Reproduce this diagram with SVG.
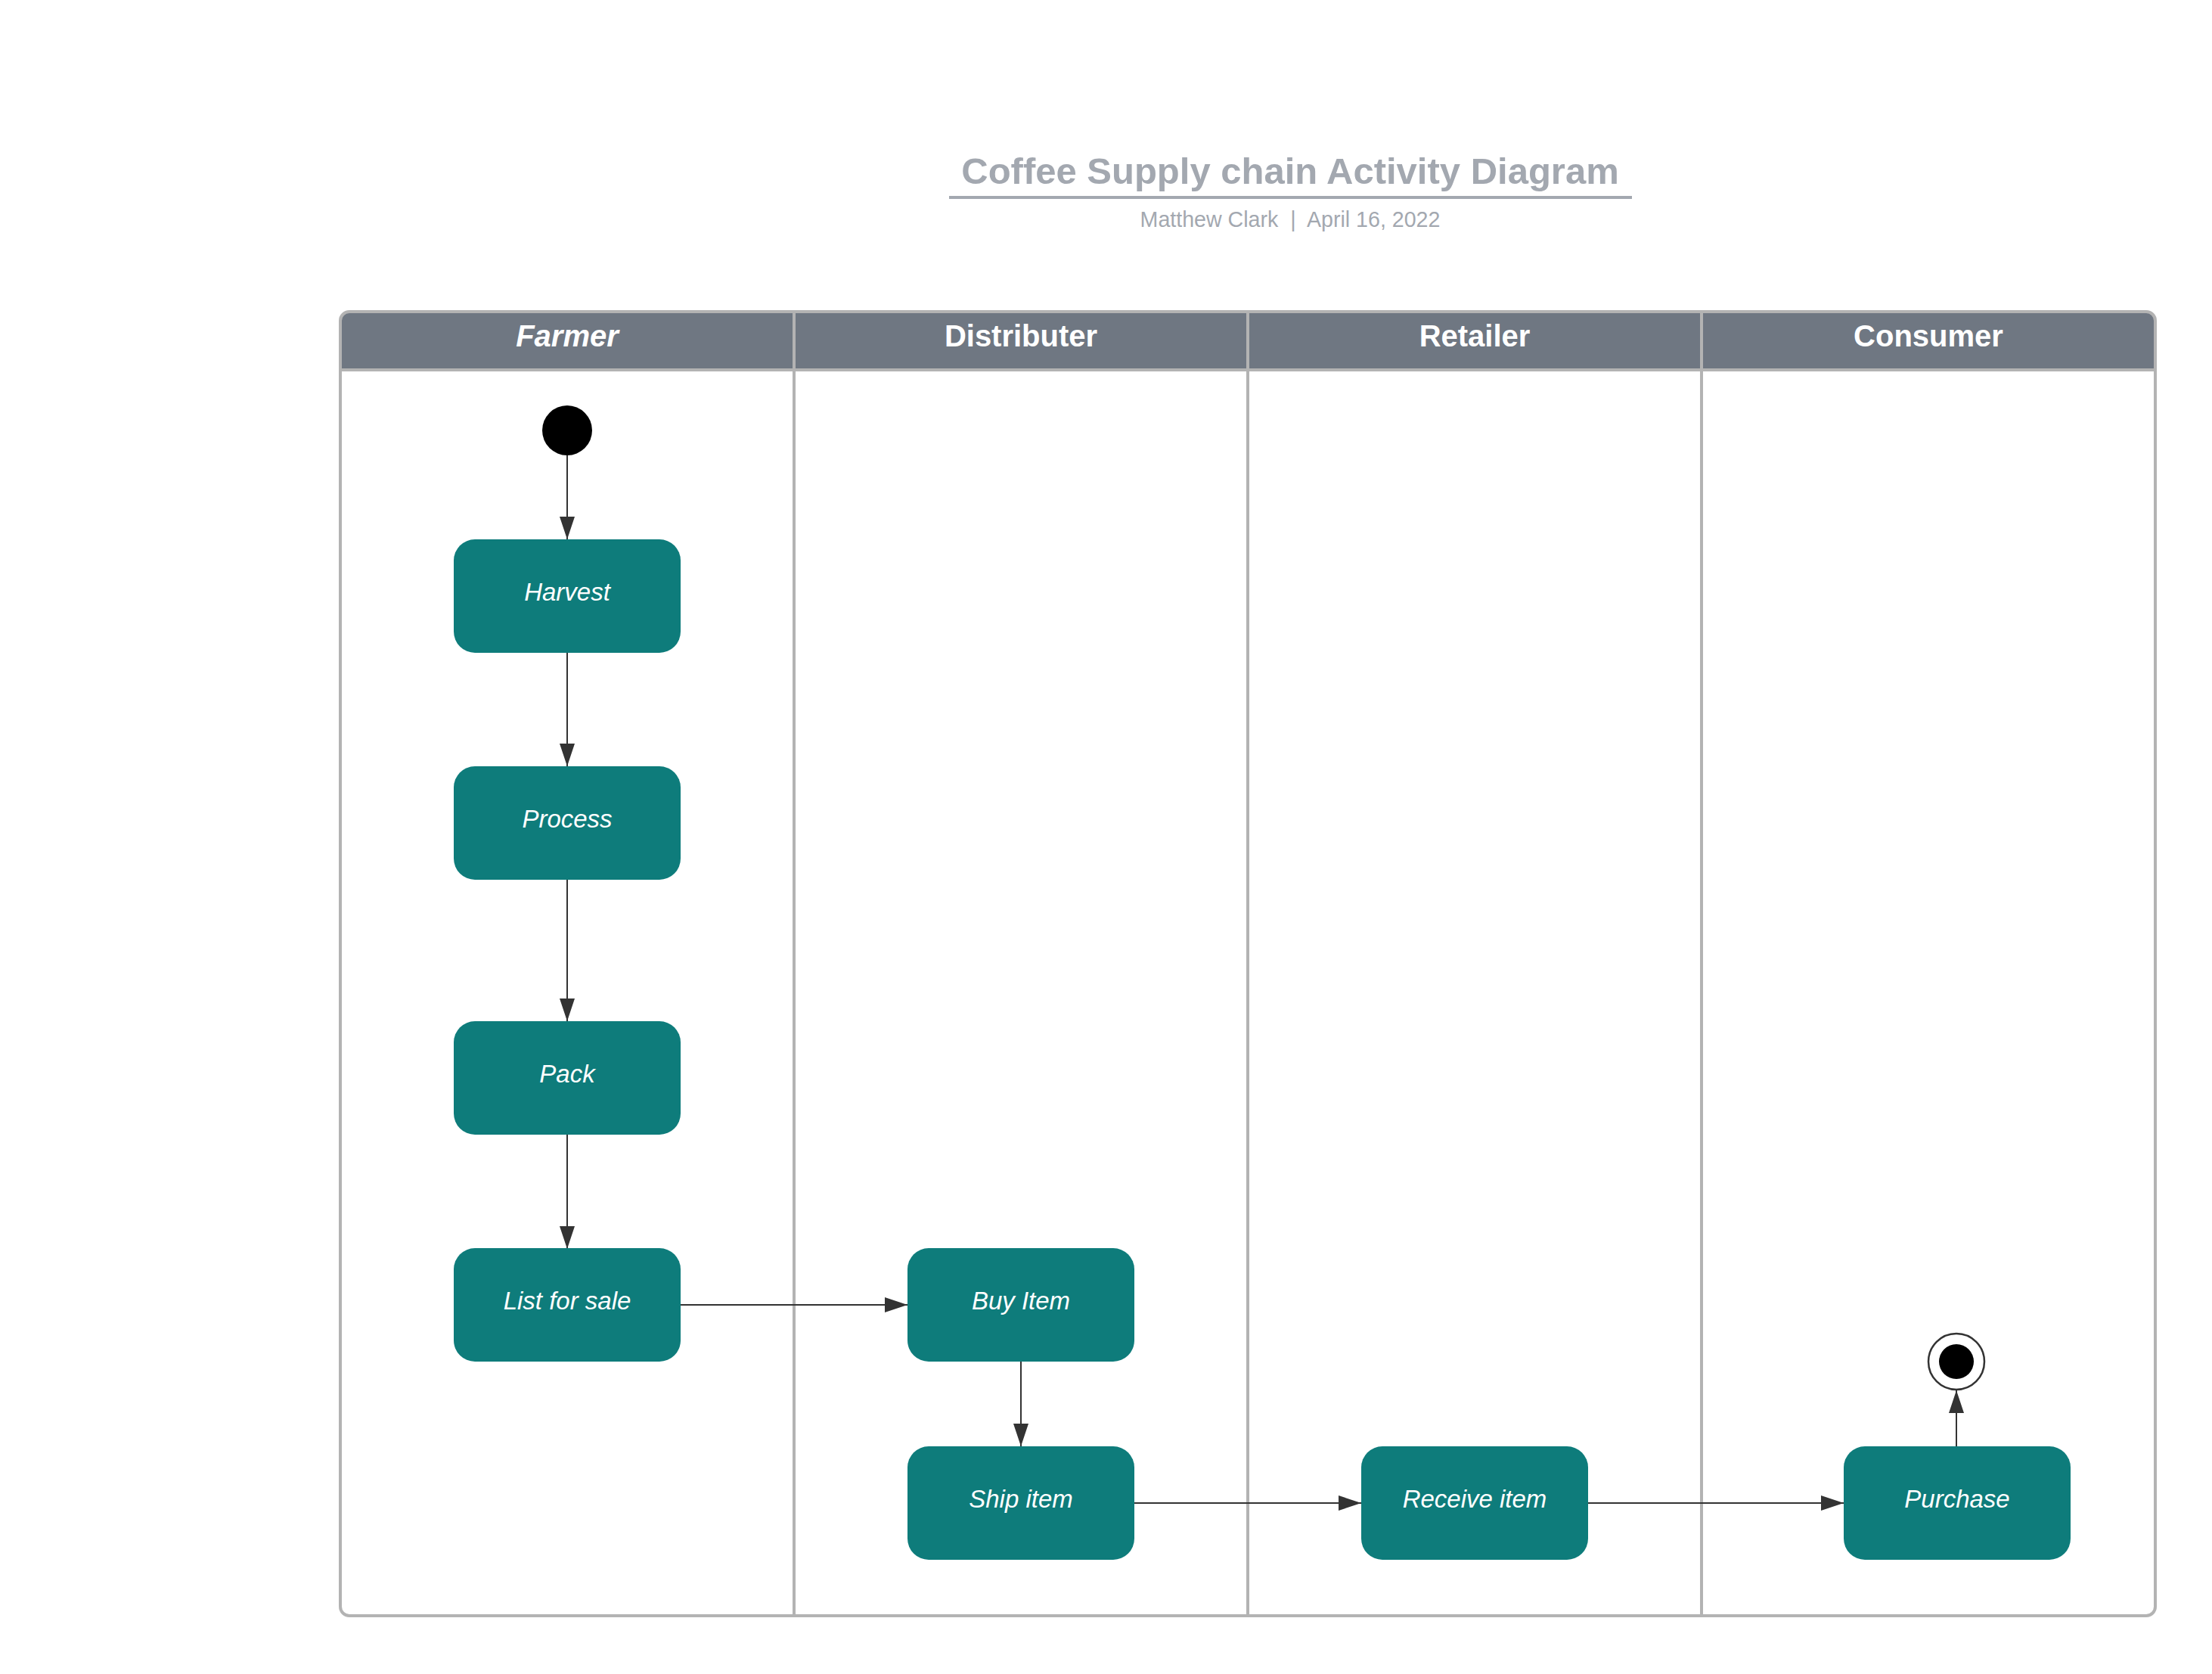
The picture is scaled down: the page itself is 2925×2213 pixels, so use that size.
<svg xmlns="http://www.w3.org/2000/svg" width="2925" height="2213" viewBox="0 0 2925 2213">
<defs>
<style>
.lane{fill:none;stroke:#b3b3b3;stroke-width:4}
.hdr{font-family:"Liberation Sans",Arial,sans-serif;font-weight:bold;font-size:40px;fill:#ffffff;text-anchor:middle}
.node rect{fill:#0e7c7b}
.node text{font-family:"Liberation Sans",Arial,sans-serif;font-style:italic;font-size:33px;fill:#ffffff;text-anchor:middle}
.conn{fill:none;stroke:#333333;stroke-width:2}
</style>
<marker id="arr" viewBox="0 0 30 20" refX="30" refY="10" markerWidth="30" markerHeight="20" markerUnits="userSpaceOnUse" orient="auto">
<path d="M0,0 L30,10 L0,20 Z" fill="#333333"/>
</marker>
</defs>
<rect width="2925" height="2213" fill="#ffffff"/>
<g id="title">
<text x="1706" y="243" font-family="'Liberation Sans',Arial,sans-serif" font-weight="bold" font-size="49" fill="#a3a8b0" text-anchor="middle">Coffee Supply chain Activity Diagram</text>
<line x1="1255" y1="261" x2="2158" y2="261" stroke="#a3a8b0" stroke-width="4"/>
<text x="1706" y="300" font-family="'Liberation Sans',Arial,sans-serif" font-size="28.6" fill="#a3a8b0" text-anchor="middle" xml:space="preserve">Matthew Clark  |  April 16, 2022</text>
</g>
<g id="swimlanes">
<path d="M450,489 V424 Q450,412 462,412 H2838 Q2850,412 2850,424 V489 Z" fill="#6f7782"/>
<rect class="lane" x="450" y="412" width="2400" height="1724" rx="12"/>
<line class="lane" x1="450" y1="489" x2="2850" y2="489"/>
<line class="lane" x1="1050" y1="412" x2="1050" y2="2136"/>
<line class="lane" x1="1650" y1="412" x2="1650" y2="2136"/>
<line class="lane" x1="2250" y1="412" x2="2250" y2="2136"/>
<text class="hdr" x="750" y="458" font-style="italic">Farmer</text>
<text class="hdr" x="1350" y="458">Distributer</text>
<text class="hdr" x="1950" y="458">Retailer</text>
<text class="hdr" x="2550" y="458">Consumer</text>
</g>
<g id="connectors">
<line class="conn" x1="750" y1="602" x2="750" y2="713" marker-end="url(#arr)"/>
<line class="conn" x1="750" y1="862" x2="750" y2="1013" marker-end="url(#arr)"/>
<line class="conn" x1="750" y1="1162" x2="750" y2="1350" marker-end="url(#arr)"/>
<line class="conn" x1="750" y1="1500" x2="750" y2="1651" marker-end="url(#arr)"/>
<line class="conn" x1="900" y1="1725" x2="1200" y2="1725" marker-end="url(#arr)"/>
<line class="conn" x1="1350" y1="1800" x2="1350" y2="1912" marker-end="url(#arr)"/>
<line class="conn" x1="1500" y1="1987" x2="1800" y2="1987" marker-end="url(#arr)"/>
<line class="conn" x1="2100" y1="1987" x2="2438" y2="1987" marker-end="url(#arr)"/>
<line class="conn" x1="2587" y1="1912" x2="2587" y2="1838" marker-end="url(#arr)"/>
</g>
<g id="start">
<circle cx="750" cy="569" r="33" fill="#000000"/>
</g>
<g id="harvest" class="node"><rect x="600" y="713" width="300" height="150" rx="28"/><text x="750" y="794">Harvest</text></g>
<g id="process" class="node"><rect x="600" y="1013" width="300" height="150" rx="28"/><text x="750" y="1094">Process</text></g>
<g id="pack" class="node"><rect x="600" y="1350" width="300" height="150" rx="28"/><text x="750" y="1431">Pack</text></g>
<g id="list-for-sale" class="node"><rect x="600" y="1650" width="300" height="150" rx="28"/><text x="750" y="1731">List for sale</text></g>
<g id="buy-item" class="node"><rect x="1200" y="1650" width="300" height="150" rx="28"/><text x="1350" y="1731">Buy Item</text></g>
<g id="ship-item" class="node"><rect x="1200" y="1912" width="300" height="150" rx="28"/><text x="1350" y="1993">Ship item</text></g>
<g id="receive-item" class="node"><rect x="1800" y="1912" width="300" height="150" rx="28"/><text x="1950" y="1993">Receive item</text></g>
<g id="purchase" class="node"><rect x="2438" y="1912" width="300" height="150" rx="28"/><text x="2588" y="1993">Purchase</text></g>
<g id="end">
<circle cx="2587" cy="1800" r="37" fill="#ffffff" stroke="#333333" stroke-width="2.5"/>
<circle cx="2587" cy="1800" r="23" fill="#000000"/>
</g>
</svg>
